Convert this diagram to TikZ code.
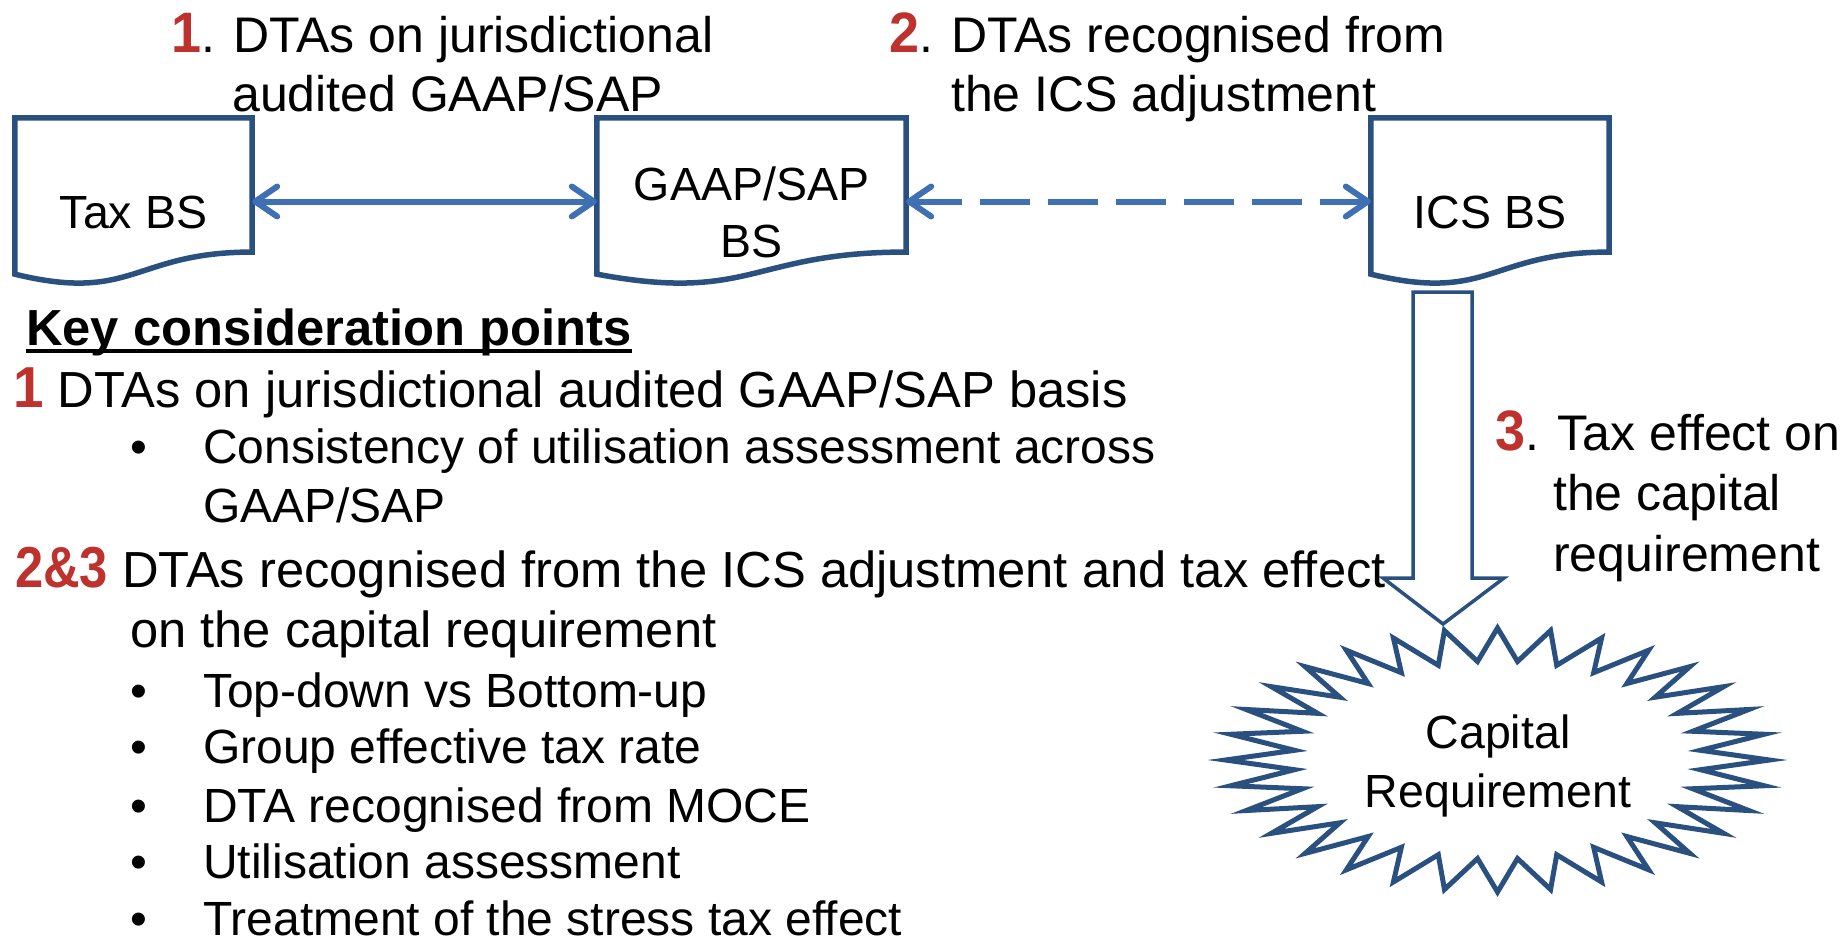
\documentclass[tikz,border=0pt]{standalone}
\usepackage{fontspec}
\usepackage{graphicx}
\setmainfont{Liberation Sans}
\usetikzlibrary{arrows.meta,calc}

\definecolor{docblue}{RGB}{42,80,128}
\definecolor{linkblue}{RGB}{64,112,180}
\definecolor{numred}{RGB}{190,50,46}

% raised red step numbers
\newcommand{\rednum}[2][1.08]{\scalebox{#1}[1.14]{\bfseries\color{numred}#2}}

\tikzset{
  txt/.style={anchor=base west, inner sep=0pt, font=\fontsize{50}{58}\selectfont},
  bigtxt/.style={anchor=base west, inner sep=0pt, font=\fontsize{50.7}{58}\selectfont},
  subtxt/.style={anchor=base west, inner sep=0pt, font=\fontsize{48}{58}\selectfont},
  boxtxt/.style={anchor=base, inner sep=0pt, font=\fontsize{46.5}{54}\selectfont},
  docarea/.style={draw=none, inner sep=0pt, minimum width=#1},
  docline/.style={draw=docblue, line width=5.5pt, fill=white, line join=miter},
  link/.style={draw=linkblue, line width=6pt,
    {Straight Barb[length=22pt,width=30pt,round]}-{Straight Barb[length=22pt,width=30pt,round]}},
  blockarrow/.style={draw=docblue, line width=3.5pt, line join=miter},
  burst/.style={draw=docblue, line width=5pt, fill=white, line join=miter, miter limit=20}
}

% document-shaped outline over a named rectangular node
\newcommand{\docpath}[1]{%
  \path[docline] (#1.north west) -- (#1.north east)
    -- ($(#1.north east)!0.802!(#1.south east)$)
    .. controls ($(#1.north)!0.802!(#1.south)$) and ($(#1.north)!1.1075!(#1.south)$)
    .. ($(#1.north west)!0.934!(#1.south west)$) -- cycle;}

\begin{document}
\begin{tikzpicture}[x=1pt,y=-1pt]
\useasboundingbox (0,0) rectangle (1843,940);

% balance sheets
\node[docarea=237pt, minimum height=167pt] (tax)  at (133.5,201.5) {};
\node[docarea=309pt, minimum height=167pt] (gaap) at (751.5,201.5) {};
\node[docarea=238pt, minimum height=167pt] (ics)  at (1490,201.5) {};
\docpath{tax}
\docpath{gaap}
\docpath{ics}
\node[boxtxt] (taxlab)   at (133.5,228) {Tax BS};
\node[boxtxt] (gaaplab1) at (751.5,200) {GAAP/SAP};
\node[boxtxt] (gaaplab2) at (751.5,257) {BS};
\node[boxtxt] (icslab)   at (1490,228) {ICS BS};

% links between the balance sheets
\draw[link] (tax.east) -- (gaap.west);
\draw[link, dash pattern=on 50pt off 18pt] (gaap.east) -- (ics.west);

% link captions
\node[txt] (cap1a) at (171,52)  {\rednum{1}. DTAs on jurisdictional};
\node[txt] (cap1b) at (232,111) {audited GAAP/SAP};
\node[txt] (cap2a) at (889,52)  {\rednum{2}. DTAs recognised from};
\node[txt] (cap2b) at (951,111) {the ICS adjustment};
\node[txt] (cap3a) at (1495,450) {\rednum{3}. Tax effect on};
\node[txt] (cap3b) at (1553,510) {the capital};
\node[txt] (cap3c) at (1553,571) {requirement};

% block arrow from the ICS balance sheet to the capital requirement
\draw[blockarrow] (1413,292) -- (1472,292) -- (1472,578) -- (1504,578)
  -- (1443,624) -- (1383,578) -- (1413,578) -- cycle;

% capital requirement burst
\draw[burst] plot[samples at={0,...,63}, variable=\t]
  ({1497.5+272*(0.875+0.125*cos(180*\t))*sin(5.625*\t)},
   {760-132*(0.875+0.125*cos(180*\t))*cos(5.625*\t)}) -- cycle;
\node[boxtxt] (caplab1) at (1498,748) {Capital};
\node[boxtxt] (caplab2) at (1498,807) {Requirement};

% key consideration points
\node[bigtxt, font=\fontsize{50.7}{58}\selectfont\bfseries] (head) at (26,345) {Key consideration points};
\draw[line width=4pt] ([yshift=-6pt]head.base west) -- ([yshift=-6pt]head.base east);

\node[bigtxt] (pt1)  at (13,407)  {\rednum{1} DTAs on jurisdictional audited GAAP/SAP basis};
\node[subtxt] (b1)   at (130,463) {\textbullet};
\node[subtxt] (b1t)  at (203,463) {Consistency of utilisation assessment across};
\node[subtxt] (b1u)  at (203,522) {GAAP/SAP};
\node[bigtxt] (pt2)  at (15,587)  {\rednum[1.0]{2\&3} DTAs recognised from the ICS adjustment and tax effect};
\node[bigtxt] (pt2b) at (130,647) {on the capital requirement};

\foreach \yy/\nm/\tx in {707/ba/Top-down vs Bottom-up,
                         763/bb/Group effective tax rate,
                         822/bc/DTA recognised from MOCE,
                         878/bd/Utilisation assessment,
                         935/be/Treatment of the stress tax effect}{
  \node[subtxt] (\nm) at (130,\yy) {\textbullet};
  \node[subtxt] (\nm t) at (203,\yy) {\tx};
}
\end{tikzpicture}
\end{document}
